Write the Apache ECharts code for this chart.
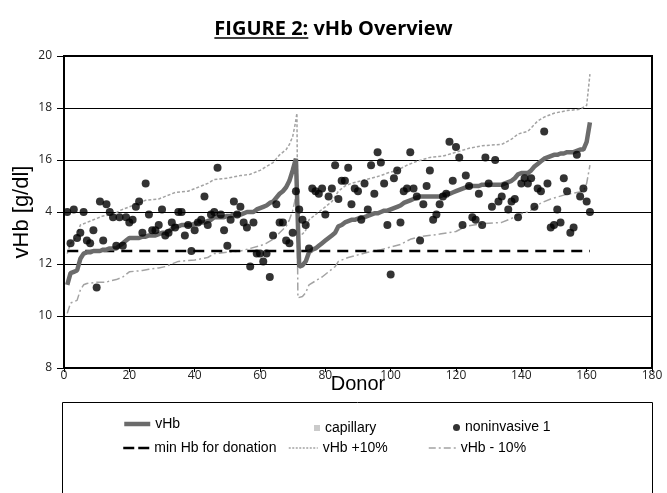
<!DOCTYPE html>
<html>
<head>
<meta charset="utf-8">
<title>vHb Overview</title>
<script src="https://cdn.jsdelivr.net/npm/echarts@6/dist/echarts.min.js"></script>
<style>
    html, body { margin: 0; padding: 0; background: #fff; }
    #chart { width: 667px; height: 493px; }
</style>
</head>
<body>
<div id="chart"></div>
<script>
// vHb per donor (donor 1..161), sorted in two groups
var vHb = [
    11.2, 11.65, 11.7, 11.75, 12.2, 12.4, 12.45, 12.45, 12.5, 12.5,
    12.5, 12.55, 12.55, 12.6, 12.6, 12.6, 12.7, 12.8, 12.9, 13.0,
    13.0, 13.0, 13.0, 13.05, 13.05, 13.1, 13.1, 13.1, 13.15, 13.2,
    13.2, 13.25, 13.35, 13.45, 13.45, 13.5, 13.5, 13.5, 13.5, 13.55,
    13.6, 13.6, 13.6, 13.65, 13.7, 13.8, 13.8, 13.8, 13.8, 13.85,
    13.85, 13.9, 13.9, 13.9, 13.95, 14.0, 14.0, 14.0, 14.1, 14.15,
    14.2, 14.25, 14.35, 14.4, 14.55, 14.7, 14.8, 14.95, 15.2, 15.6,
    16.05, 11.9, 11.95, 12.1, 12.45, 12.55, 12.6, 12.7, 12.8, 12.9,
    13.0, 13.1, 13.2, 13.45, 13.5, 13.6, 13.65, 13.7, 13.7, 13.75,
    13.8, 13.8, 13.85, 13.9, 13.95, 13.95, 14.0, 14.05, 14.05, 14.1,
    14.15, 14.2, 14.25, 14.35, 14.4, 14.45, 14.5, 14.55, 14.6, 14.6,
    14.6, 14.6, 14.6, 14.6, 14.6, 14.65, 14.7, 14.7, 14.75, 14.8,
    14.85, 14.9, 14.95, 15.0, 15.0, 15.0, 15.0, 15.05, 15.05, 15.05,
    15.05, 15.05, 15.05, 15.05, 15.1, 15.15, 15.2, 15.3, 15.45, 15.5,
    15.5, 15.5, 15.6, 15.75, 15.85, 15.95, 16.05, 16.1, 16.15, 16.2,
    16.2, 16.25, 16.25, 16.3, 16.3, 16.3, 16.35, 16.4, 16.4, 16.7,
    17.45
];

// noninvasive 1 per donor (donor 1..161)
var noninvasive = [
    14.0, 12.8, 14.1, 13.0, 13.2, 14.0, 12.9, 12.8, 13.3, 11.1,
    14.4, 12.9, 14.3, 14.0, 13.8, 12.7, 13.8, 12.7, 13.8, 13.6,
    13.7, 14.2, 14.4, 13.2, 15.1, 13.9, 13.3, 13.3, 13.5, 14.1,
    13.1, 13.2, 13.6, 13.4, 14.0, 14.0, 13.1, 13.5, 12.5, 13.3,
    13.6, 13.7, 14.6, 13.5, 13.9, 14.0, 15.7, 13.9, 13.3, 12.7,
    13.7, 14.4, 13.9, 14.2, 13.6, 13.4, 11.9, 13.6, 12.4, 12.4,
    12.1, 12.4, 11.5, 13.1, 14.3, 13.6, 13.6, 12.9, 12.8, 13.2,
    14.8, 14.1, 13.7, 13.5, 12.6, 14.9, 14.8, 14.7, 14.9, 13.9,
    14.6, 14.9, 15.8, 14.5, 15.2, 15.2, 15.7, 14.3, 14.9, 14.8,
    13.7, 15.1, 14.1, 15.8, 14.7, 16.3, 15.9, 15.1, 13.5, 11.6,
    15.3, 15.6, 13.6, 14.8, 14.9, 16.3, 14.9, 14.6, 12.9, 14.3,
    15.0, 15.6, 13.7, 13.9, 14.3, 14.6, 14.7, 16.7, 15.2, 16.5,
    16.1, 13.5, 15.4, 15.0, 13.8, 13.7, 14.7, 13.5, 16.1, 15.1,
    14.2, 16.0, 14.4, 14.6, 15.0, 14.1, 14.4, 14.5, 13.8, 15.1,
    15.3, 15.1, 15.3, 14.2, 14.9, 14.8, 17.1, 15.1, 13.4, 13.5,
    14.1, 13.6, 15.3, 14.8, 13.2, 13.4, 16.2, 14.6, 14.9, 14.4,
    14.0
];

// capillary: no points visible in the plot
var capillary = [];

// +10% / -10% bands, read as [donor, value] break points
var vHbPlus10 = [
    [1, 12.4], [2, 12.8], [3, 12.9], [4, 13.1], [5, 13.5], [7, 13.6], [9, 13.7],
    [12, 13.85], [15, 13.9], [17, 14.05], [20, 14.2], [23, 14.35], [25, 14.45],
    [29, 14.5], [31, 14.6], [34, 14.75], [38, 14.8], [40, 14.9], [42, 15.0],
    [44, 15.1], [46, 15.25], [50, 15.3], [54, 15.4], [57, 15.45], [60, 15.6],
    [62, 15.75], [64, 15.9], [66, 16.2], [68, 16.4], [69, 16.6], [70, 16.9],
    [70.8, 17.4], [71.3, 17.8], [71.6, 13.1], [73, 13.15], [74, 13.3], [75, 13.7],
    [76, 13.8], [77, 13.9], [78, 14.0], [80, 14.2], [82, 14.4], [84, 14.8],
    [86, 15.0], [88, 15.1], [91, 15.2], [94, 15.3], [97, 15.4], [99, 15.5],
    [102, 15.6], [105, 15.8], [108, 15.95], [112, 16.1], [116, 16.15], [120, 16.3],
    [124, 16.45], [128, 16.55], [134, 16.6], [137, 16.8], [139, 17.0], [142, 17.1],
    [145, 17.5], [147, 17.65], [150, 17.8], [154, 17.9], [158, 17.95], [160, 18.1],
    [161, 19.3]
];
var vHbMinus10 = [
    [1, 10.1], [2, 10.5], [3, 10.55], [4, 10.6], [5, 11.0], [6, 11.2], [7, 11.25],
    [10, 11.3], [13, 11.3], [14, 11.35], [16, 11.4], [18, 11.5], [20, 11.7],
    [24, 11.75], [26, 11.8], [29, 11.85], [31, 11.9], [33, 12.0], [35, 12.1],
    [40, 12.15], [44, 12.25], [46, 12.4], [50, 12.45], [54, 12.5], [57, 12.6],
    [60, 12.7], [62, 12.8], [64, 12.95], [66, 13.2], [68, 13.45], [69, 13.7],
    [70, 14.05], [70.8, 14.5], [71.3, 15.2], [71.6, 10.7], [73, 10.75], [74, 10.9],
    [75, 11.2], [77, 11.35], [79, 11.5], [81, 11.7], [83, 11.9], [84, 12.1],
    [87, 12.25], [90, 12.35], [93, 12.45], [97, 12.55], [100, 12.65], [103, 12.75],
    [106, 12.95], [109, 13.05], [115, 13.15], [120, 13.25], [123, 13.45],
    [128, 13.55], [134, 13.6], [137, 13.75], [139, 13.9], [142, 14.0], [144, 14.15],
    [146, 14.35], [149, 14.5], [153, 14.65], [157, 14.75], [159, 14.8], [160, 15.1],
    [161, 15.8]
];

// min Hb for donation
var minHb = [[1, 12.5], [161, 12.5]];

var xTicks = [0, 20, 40, 60, 80, 100, 120, 140, 160, 180];
var yTicks = [8, 10, 12, 14, 16, 18, 20];
var yTickLabels = ['8', '10', '12', '4', '16', '18', '20'];

var titleText = 'FIGURE 2: vHb Overview';
var titleUnderlined = 'FIGURE 2:';

var toPairs = function (arr) {
    var out = [];
    for (var i = 0; i < arr.length; i++) {
        out.push([i + 1, arr[i]]);
    }
    return out;
};

var chart = echarts.init(document.getElementById('chart'), null, {renderer: 'canvas'});

var titleFont = 'bold 20px "Open Sans"';
var ctx = document.createElement('canvas').getContext('2d');
ctx.font = titleFont;
var wAll = ctx.measureText(titleText).width;
var wFig = ctx.measureText(titleUnderlined).width;
var ulStart = 667 / 2 - wAll / 2;

var tickFont = {fontFamily: 'Open Sans', fontSize: 12, color: '#222'};
var legendText = {fontFamily: 'Liberation Sans', fontSize: 14, color: '#000'};
var row1 = 424, row2 = 448;

// one legend per entry so each can sit where the original puts it
var legendItem = function (name, left, row, w, h, extra) {
    var lg = {
        data: [name], left: left, top: row - h / 2, padding: 0,
        itemWidth: w, itemHeight: h, selectedMode: false,
        itemStyle: {opacity: 0},
        textStyle: legendText
    };
    return Object.assign(lg, extra || {});
};

var option = {
    animation: false,
    backgroundColor: '#fff',
    title: {
        text: titleText,
        left: 'center',
        top: 14,
        textStyle: {fontFamily: 'Open Sans', fontWeight: 'bold', fontSize: 20, color: '#000'}
    },
    graphic: [
        {
            type: 'line',
            shape: {x1: ulStart, y1: 38, x2: ulStart + wFig, y2: 38},
            style: {stroke: '#000', lineWidth: 1.5}
        },
        {
            type: 'rect',
            shape: {x: 62.5, y: 402.5, width: 590, height: 100},
            style: {fill: 'none', stroke: '#000', lineWidth: 1}
        }
    ],
    grid: {
        left: 64, right: 15, top: 56, bottom: 125,
        show: true, borderColor: '#000', borderWidth: 2
    },
    xAxis: {
        type: 'value',
        min: xTicks[0], max: xTicks[xTicks.length - 1], interval: 20,
        name: 'Donor',
        nameLocation: 'middle',
        nameGap: 6,
        nameMoveOverlap: false,
        nameTextStyle: {fontFamily: 'Liberation Sans', fontSize: 20, color: '#000'},
        axisLine: {show: true, lineStyle: {color: '#000', width: 2}},
        axisTick: {show: true, length: 4, lineStyle: {color: '#000', width: 1}},
        axisLabel: Object.assign({margin: 2}, tickFont),
        splitLine: {show: false}
    },
    yAxis: {
        type: 'value',
        min: yTicks[0], max: yTicks[yTicks.length - 1], interval: 2,
        name: 'vHb [g/dl]',
        nameLocation: 'middle',
        nameGap: 31,
        nameMoveOverlap: false,
        nameTextStyle: {fontFamily: 'Liberation Sans', fontSize: 22, color: '#000'},
        axisLine: {show: true, lineStyle: {color: '#000', width: 2}},
        axisTick: {show: true, length: 7, lineStyle: {color: '#000', width: 1}},
        axisLabel: Object.assign({
            margin: 12,
            formatter: function (v) {
                var i = yTicks.indexOf(v);
                return i >= 0 ? yTickLabels[i] : '';
            }
        }, tickFont),
        splitLine: {show: true, lineStyle: {color: '#000', width: 1}}
    },
    legend: [
        legendItem('vHb', 122, row1, 26, 14, {
            lineStyle: {color: '#6b6b6b', width: 4.5, type: 'solid'}
        }),
        legendItem({name: 'capillary', icon: 'rect'}, 314, row1, 6, 6, {
            itemStyle: {color: '#bdbdbd'}
        }),
        legendItem({name: 'noninvasive 1', icon: 'circle'}, 453, row1, 7, 7, {
            itemStyle: {color: '#000'}
        }),
        legendItem('min Hb for donation', 122, row2, 26, 14, {
            lineStyle: {color: '#000', width: 2.5, type: [11, 4]}
        }),
        legendItem('vHb +10%', 288, row2, 29, 14, {
            lineStyle: {color: '#a3a3a3', width: 1.5, type: [2, 1.5]}
        }),
        legendItem('vHb - 10%', 428, row2, 27, 14, {
            lineStyle: {color: '#a3a3a3', width: 1.5, type: [7, 3, 2, 3]}
        })
    ],
    series: [
        {
            name: 'vHb +10%',
            type: 'line',
            data: vHbPlus10,
            symbol: 'none',
            z: 2,
            lineStyle: {color: '#a3a3a3', width: 1.5, type: [3, 2]},
            itemStyle: {color: '#a3a3a3'}
        },
        {
            name: 'vHb - 10%',
            type: 'line',
            data: vHbMinus10,
            symbol: 'none',
            z: 2,
            lineStyle: {color: '#a3a3a3', width: 1.5, type: [8, 3, 2, 3]},
            itemStyle: {color: '#a3a3a3'}
        },
        {
            name: 'min Hb for donation',
            type: 'line',
            data: minHb,
            symbol: 'none',
            z: 3,
            lineStyle: {color: '#000', width: 2.5, type: [11, 7]},
            itemStyle: {color: '#000'}
        },
        {
            name: 'vHb',
            type: 'line',
            data: toPairs(vHb),
            symbol: 'none',
            z: 4,
            lineStyle: {color: '#6b6b6b', width: 4.5},
            itemStyle: {color: '#6b6b6b'}
        },
        {
            name: 'capillary',
            type: 'scatter',
            data: capillary,
            symbol: 'rect',
            symbolSize: 6,
            itemStyle: {color: '#bdbdbd'}
        },
        {
            name: 'noninvasive 1',
            type: 'scatter',
            data: toPairs(noninvasive),
            symbol: 'circle',
            symbolSize: 8,
            z: 5,
            itemStyle: {color: '#000'}
        }
    ]
};

chart.setOption(option);
</script>
</body>
</html>
